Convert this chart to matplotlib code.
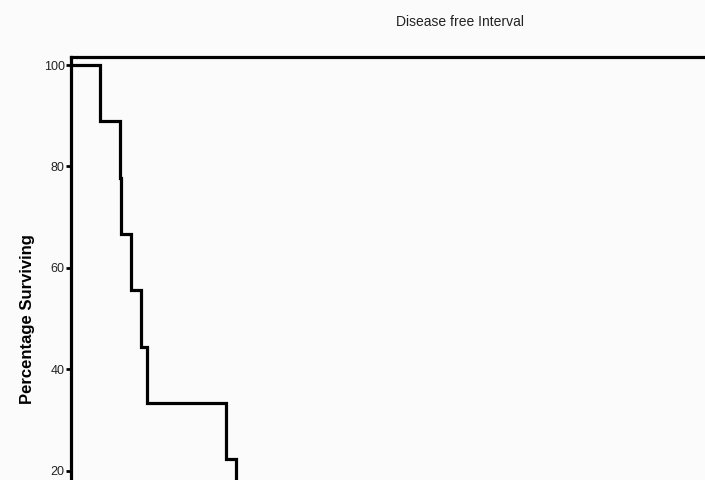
import matplotlib
matplotlib.use('Agg')
import matplotlib.pyplot as plt

# Kaplan-Meier steps (months, % surviving)
event_times = [0, 7.1, 12.0, 12.4, 14.7, 17.3, 18.7, 38.2, 40.7, 60.0]
surviving = [100, 88.9, 77.8, 66.7, 55.6, 44.4, 33.3, 22.2, 11.1, 11.1]
y_ticks = [0, 20, 40, 60, 80, 100]

plt.rcParams['font.family'] = ['Liberation Sans', 'DejaVu Sans']

fig = plt.figure(figsize=(7.05, 4.8), dpi=100)
fig.patch.set_facecolor('#fbfbfb')

# the chart is cropped at the bottom and right, so the axes run past the figure
ax = fig.add_axes([71 / 705, 1 - 572 / 480, (720 - 71) / 705, (572 - 57) / 480])
ax.set_facecolor('#fbfbfb')

ax.step(event_times, surviving, where='post', color='black', lw=2.3,
        solid_joinstyle='miter', clip_on=False)

ax.set_xlim(0, 160)
ax.set_ylim(0, 101.6)
ax.set_yticks(y_ticks)
ax.set_xticks([])
ax.tick_params(axis='y', length=3.5, width=2, labelsize=9, pad=1, colors='black', labelcolor='#222222')

for side in ['left', 'top']:
    ax.spines[side].set_linewidth(2.3)
ax.spines['right'].set_visible(False)
ax.spines['bottom'].set_visible(False)

fig.text(460 / 705, 1 - 22 / 480, 'Disease free Interval', ha='center', va='center',
         fontsize=10, color='#222222')
fig.text(28 / 705, 1 - 319 / 480, 'Percentage Surviving', rotation=90, ha='center', va='center',
         fontsize=12, fontweight='bold')

fig.savefig('out.png', dpi=100, facecolor=fig.get_facecolor())
